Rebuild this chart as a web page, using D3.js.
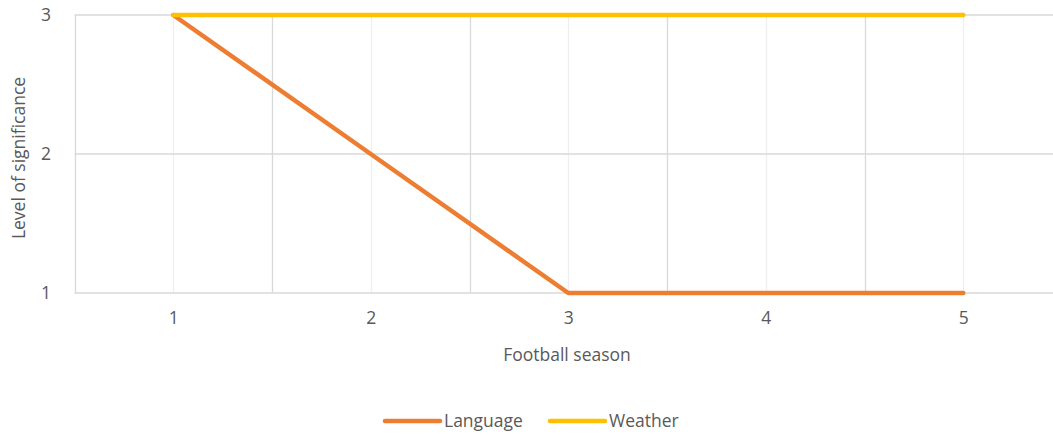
<!DOCTYPE html>
<html>
<head>
<meta charset="utf-8">
<script src="https://cdn.jsdelivr.net/npm/d3@7"></script>
<style>
  body { margin: 0; background: #fff; }
  text { font-family: "Open Sans", Lato, sans-serif; fill: #595959; }
</style>
</head>
<body>
<div id="chart"></div>
<script>
// data
const seasons = [1, 2, 3, 4, 5];
const language = [3, 2, 1, 1, 1];
const weather = [3, 3, 3, 3, 3];
const seriesNames = ['Language', 'Weather'];
const seriesColors = ['#ED7D31', '#FFC000'];
const yTicks = [1, 2, 3];
const xMajor = [0.5, 1.5, 2.5, 3.5, 4.5];
const xTitle = 'Football season';
const yTitle = 'Level of significance';

function GetChart(idDomElement) {
    const width = 1053;
    const height = 436;
    const left = 74.5;
    const top = 15;
    const bottom = 293;
    const fontSize = 17.5;

    let svg = d3.select(`#${idDomElement}`)
        .append('svg')
        .attr('width', width)
        .attr('height', height);

    const scaleX = d3.scaleLinear().domain([0.5, 5.5]).range([left, left + 5 * 197.5]);
    const scaleY = d3.scaleLinear().domain([1, 3]).range([bottom, top]);

    // minor vertical grid (at each season)
    svg.append('g')
        .selectAll('line')
        .data(seasons)
        .join('line')
        .attr('x1', d => Math.round(scaleX(d)) + 0.5)
        .attr('x2', d => Math.round(scaleX(d)) + 0.5)
        .attr('y1', top).attr('y2', bottom)
        .style('stroke', '#efefef')
        .style('stroke-width', 1.3);

    // major vertical grid
    svg.append('g')
        .selectAll('line')
        .data(xMajor)
        .join('line')
        .attr('x1', d => Math.round(scaleX(d)) + 0.5)
        .attr('x2', d => Math.round(scaleX(d)) + 0.5)
        .attr('y1', top).attr('y2', bottom)
        .style('stroke', '#d9d9d9')
        .style('stroke-width', 1.3);

    // horizontal grid
    svg.append('g')
        .selectAll('line')
        .data(yTicks)
        .join('line')
        .attr('x1', left).attr('x2', width)
        .attr('y1', d => scaleY(d))
        .attr('y2', d => scaleY(d))
        .style('stroke', '#d9d9d9')
        .style('stroke-width', 1.3);

    // axes labels
    const xAxis = d3.axisBottom(scaleX).tickValues(seasons).tickSize(0).tickPadding(0).tickFormat(d3.format('d'));
    const gx = svg.append('g')
        .attr('transform', 'translate(0,' + (bottom + 19) + ')')
        .call(xAxis);
    gx.select('.domain').remove();
    gx.selectAll('text').attr('font-size', fontSize).attr('dy', '0.71em');

    const yAxis = d3.axisLeft(scaleY).tickValues(yTicks).tickSize(0).tickPadding(0).tickFormat(d3.format('d'));
    const gy = svg.append('g')
        .attr('transform', 'translate(51,0)')
        .call(yAxis);
    gy.select('.domain').remove();
    gy.selectAll('text').attr('font-size', fontSize);

    // titles
    svg.append('text')
        .attr('x', 567).attr('y', 361)
        .attr('text-anchor', 'middle')
        .attr('font-size', fontSize)
        .text(xTitle);

    svg.append('text')
        .attr('transform', 'translate(25,158) rotate(-90)')
        .attr('text-anchor', 'middle')
        .attr('font-size', fontSize)
        .text(yTitle);

    // series lines
    const line = d3.line()
        .x(d => scaleX(d.x))
        .y(d => scaleY(d.y));

    const series = [language, weather].map((vals, i) => ({
        name: seriesNames[i],
        color: seriesColors[i],
        points: seasons.map((s, j) => ({ x: s, y: vals[j] }))
    }));

    svg.append('g')
        .selectAll('path')
        .data(series)
        .join('path')
        .attr('fill', 'none')
        .style('stroke', d => d.color)
        .style('stroke-width', 4.5)
        .style('stroke-linecap', 'round')
        .style('stroke-linejoin', 'round')
        .attr('d', d => line(d.points));

    // legend
    const legendX = [385, 550];
    const legend = svg.append('g')
        .selectAll('g')
        .data(series)
        .join('g')
        .attr('transform', (d, i) => 'translate(' + legendX[i] + ',421)');
    legend.append('line')
        .attr('x1', 0).attr('x2', 55)
        .style('stroke', d => d.color)
        .style('stroke-width', 4.5)
        .style('stroke-linecap', 'round');
    legend.append('text')
        .attr('x', 59).attr('dy', '0.35em')
        .attr('font-size', fontSize)
        .text(d => d.name);
}

GetChart('chart');
</script>
</body>
</html>
